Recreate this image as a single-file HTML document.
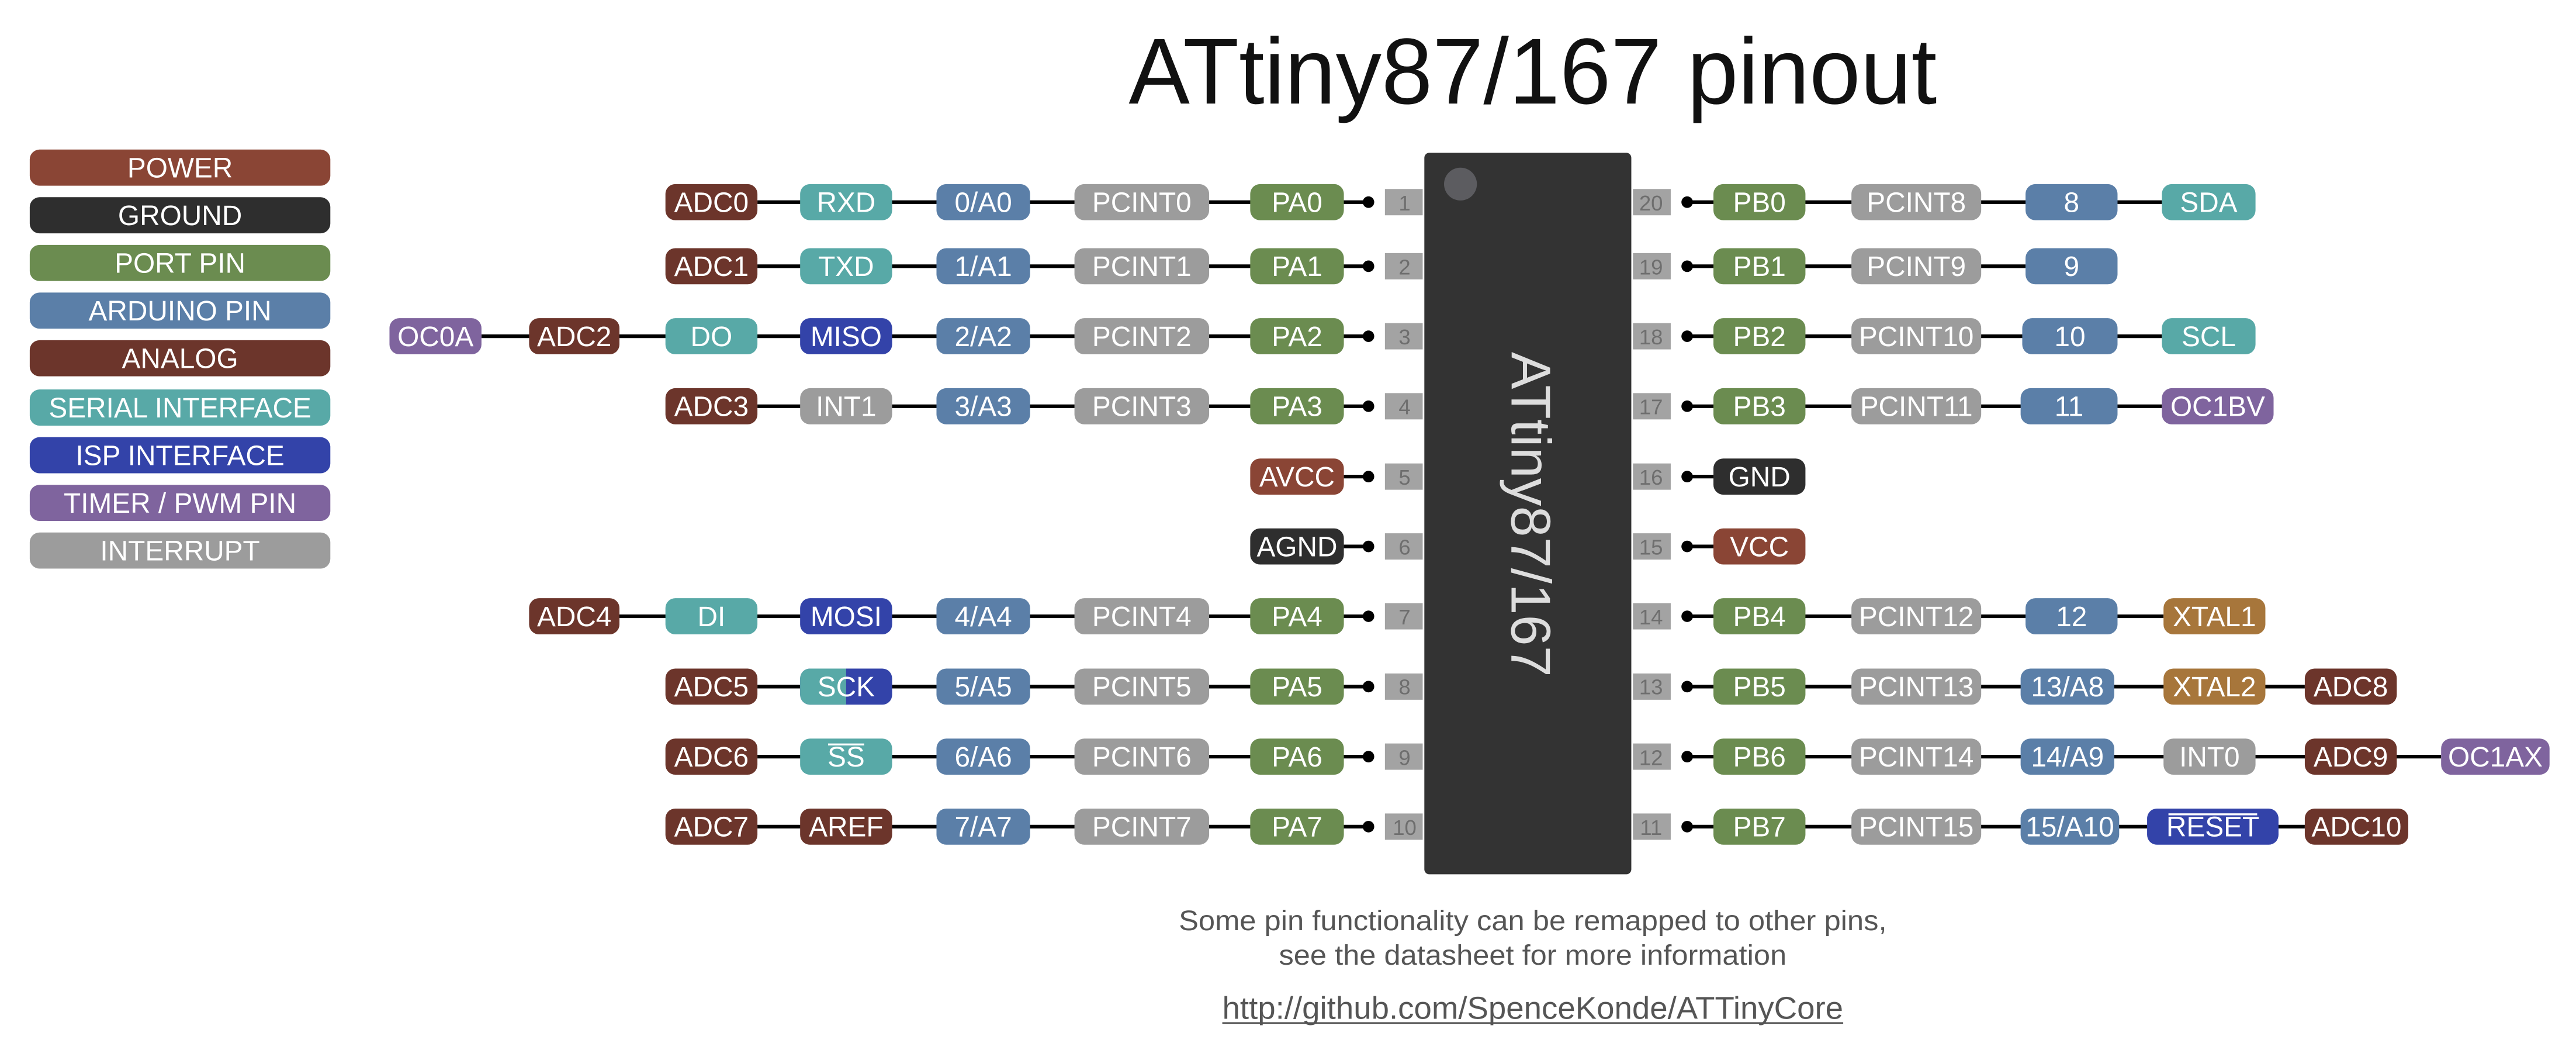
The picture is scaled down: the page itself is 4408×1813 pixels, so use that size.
<!DOCTYPE html>
<html><head><meta charset="utf-8"><style>
html,body{margin:0;padding:0;background:#fff;}
svg{display:block;}
text{font-family:"Liberation Sans",Arial,sans-serif;}
.p text,.l{fill:#fff;font-size:17px;text-anchor:middle;}
.n{fill:#6e6e6e;font-size:13px;text-anchor:middle;}
.w{stroke:#000;stroke-width:2.2;}
</style></head><body>
<svg width="4408" height="1813" viewBox="0 0 1568 645" xmlns="http://www.w3.org/2000/svg">
<defs>
<style>
.pw{fill:#8a4535}.gd{fill:#2e2e2e}.pt{fill:#6b8c50}.ar{fill:#5b7fa8}.an{fill:#6c352b}.se{fill:#58a9a7}.is{fill:#3343a9}.tm{fill:#7f649e}.in{fill:#9c9c9c}.xt{fill:#a7763b}
</style>
</defs>
<text x="933" y="63" font-size="57" text-anchor="middle" fill="#111" textLength="492" lengthAdjust="spacingAndGlyphs">ATtiny87/167 pinout</text>

<g class="p">
<rect class="pw" x="18" y="91" width="183" height="22" rx="6"/><text x="109.5" y="108">POWER</text>
<rect class="gd" x="18" y="120" width="183" height="22" rx="6"/><text x="109.5" y="137">GROUND</text>
<rect class="pt" x="18" y="149" width="183" height="22" rx="6"/><text x="109.5" y="166">PORT PIN</text>
<rect class="ar" x="18" y="178" width="183" height="22" rx="6"/><text x="109.5" y="195">ARDUINO PIN</text>
<rect class="an" x="18" y="207" width="183" height="22" rx="6"/><text x="109.5" y="224">ANALOG</text>
<rect class="se" x="18" y="237" width="183" height="22" rx="6"/><text x="109.5" y="254">SERIAL INTERFACE</text>
<rect class="is" x="18" y="266" width="183" height="22" rx="6"/><text x="109.5" y="283">ISP INTERFACE</text>
<rect class="tm" x="18" y="295" width="183" height="22" rx="6"/><text x="109.5" y="312">TIMER / PWM PIN</text>
<rect class="in" x="18" y="324" width="183" height="22" rx="6"/><text x="109.5" y="341">INTERRUPT</text>
</g>

<rect x="867" y="93" width="126" height="439" rx="3" fill="#333"/>
<circle cx="889" cy="112" r="10" fill="#5c5c60"/>
<text transform="translate(920,313) rotate(90)" font-size="34" fill="#ddd" text-anchor="middle">ATtiny87/167</text>

<g class="w">
<line x1="461" y1="123" x2="833" y2="123"/>
<line x1="461" y1="162" x2="833" y2="162"/>
<line x1="293" y1="204.6" x2="833" y2="204.6"/>
<line x1="461" y1="247.2" x2="833" y2="247.2"/>
<line x1="818" y1="290" x2="833" y2="290"/>
<line x1="818" y1="332.5" x2="833" y2="332.5"/>
<line x1="377" y1="375" x2="833" y2="375"/>
<line x1="461" y1="417.8" x2="833" y2="417.8"/>
<line x1="461" y1="460.4" x2="833" y2="460.4"/>
<line x1="461" y1="503" x2="833" y2="503"/>
<line x1="1027" y1="123" x2="1316" y2="123"/>
<line x1="1027" y1="162" x2="1233" y2="162"/>
<line x1="1027" y1="204.6" x2="1316" y2="204.6"/>
<line x1="1027" y1="247.2" x2="1316" y2="247.2"/>
<line x1="1027" y1="290" x2="1043" y2="290"/>
<line x1="1027" y1="332.5" x2="1043" y2="332.5"/>
<line x1="1027" y1="375" x2="1317" y2="375"/>
<line x1="1027" y1="417.8" x2="1403" y2="417.8"/>
<line x1="1027" y1="460.4" x2="1486" y2="460.4"/>
<line x1="1027" y1="503" x2="1403" y2="503"/>
</g>
<g fill="#000">
<circle cx="833" cy="123" r="3.5"/><circle cx="833" cy="162" r="3.5"/><circle cx="833" cy="204.6" r="3.5"/><circle cx="833" cy="247.2" r="3.5"/><circle cx="833" cy="290" r="3.5"/><circle cx="833" cy="332.5" r="3.5"/><circle cx="833" cy="375" r="3.5"/><circle cx="833" cy="417.8" r="3.5"/><circle cx="833" cy="460.4" r="3.5"/><circle cx="833" cy="503" r="3.5"/>
<circle cx="1027" cy="123" r="3.5"/><circle cx="1027" cy="162" r="3.5"/><circle cx="1027" cy="204.6" r="3.5"/><circle cx="1027" cy="247.2" r="3.5"/><circle cx="1027" cy="290" r="3.5"/><circle cx="1027" cy="332.5" r="3.5"/><circle cx="1027" cy="375" r="3.5"/><circle cx="1027" cy="417.8" r="3.5"/><circle cx="1027" cy="460.4" r="3.5"/><circle cx="1027" cy="503" r="3.5"/>
</g>

<g fill="#a3a3a3">
<rect x="843" y="115" width="23" height="16"/><rect x="843" y="154" width="23" height="16"/><rect x="843" y="196.6" width="23" height="16"/><rect x="843" y="239.2" width="23" height="16"/><rect x="843" y="282" width="23" height="16"/><rect x="843" y="324.5" width="23" height="16"/><rect x="843" y="367" width="23" height="16"/><rect x="843" y="409.8" width="23" height="16"/><rect x="843" y="452.4" width="23" height="16"/><rect x="843" y="495" width="23" height="16"/>
<rect x="994" y="115" width="23" height="16"/><rect x="994" y="154" width="23" height="16"/><rect x="994" y="196.6" width="23" height="16"/><rect x="994" y="239.2" width="23" height="16"/><rect x="994" y="282" width="23" height="16"/><rect x="994" y="324.5" width="23" height="16"/><rect x="994" y="367" width="23" height="16"/><rect x="994" y="409.8" width="23" height="16"/><rect x="994" y="452.4" width="23" height="16"/><rect x="994" y="495" width="23" height="16"/>
</g>
<g class="n">
<text x="855" y="128">1</text><text x="855" y="167">2</text><text x="855" y="209.5">3</text><text x="855" y="252">4</text><text x="855" y="295">5</text><text x="855" y="337.5">6</text><text x="855" y="380">7</text><text x="855" y="422.5">8</text><text x="855" y="465.5">9</text><text x="855" y="508">10</text>
<text x="1005" y="128">20</text><text x="1005" y="167">19</text><text x="1005" y="209.5">18</text><text x="1005" y="252">17</text><text x="1005" y="295">16</text><text x="1005" y="337.5">15</text><text x="1005" y="380">14</text><text x="1005" y="422.5">13</text><text x="1005" y="465.5">12</text><text x="1005" y="508">11</text>
</g>

<g class="p">
<rect class="an" x="405" y="112" width="56" height="22" rx="6"/><text x="433" y="129">ADC0</text>
<rect class="se" x="487" y="112" width="56" height="22" rx="6"/><text x="515" y="129">RXD</text>
<rect class="ar" x="570" y="112" width="57" height="22" rx="6"/><text x="598.5" y="129">0/A0</text>
<rect class="in" x="654" y="112" width="82" height="22" rx="6"/><text x="695" y="129">PCINT0</text>
<rect class="pt" x="761" y="112" width="57" height="22" rx="6"/><text x="789.5" y="129">PA0</text>
<rect class="an" x="405" y="151" width="56" height="22" rx="6"/><text x="433" y="168">ADC1</text>
<rect class="se" x="487" y="151" width="56" height="22" rx="6"/><text x="515" y="168">TXD</text>
<rect class="ar" x="570" y="151" width="57" height="22" rx="6"/><text x="598.5" y="168">1/A1</text>
<rect class="in" x="654" y="151" width="82" height="22" rx="6"/><text x="695" y="168">PCINT1</text>
<rect class="pt" x="761" y="151" width="57" height="22" rx="6"/><text x="789.5" y="168">PA1</text>
<rect class="tm" x="237" y="193.6" width="56" height="22" rx="6"/><text x="265" y="210.6">OC0A</text>
<rect class="an" x="322" y="193.6" width="55" height="22" rx="6"/><text x="349.5" y="210.6">ADC2</text>
<rect class="se" x="405" y="193.6" width="56" height="22" rx="6"/><text x="433" y="210.6">DO</text>
<rect class="is" x="487" y="193.6" width="56" height="22" rx="6"/><text x="515" y="210.6">MISO</text>
<rect class="ar" x="570" y="193.6" width="57" height="22" rx="6"/><text x="598.5" y="210.6">2/A2</text>
<rect class="in" x="654" y="193.6" width="82" height="22" rx="6"/><text x="695" y="210.6">PCINT2</text>
<rect class="pt" x="761" y="193.6" width="57" height="22" rx="6"/><text x="789.5" y="210.6">PA2</text>
<rect class="an" x="405" y="236.2" width="56" height="22" rx="6"/><text x="433" y="253.2">ADC3</text>
<rect class="in" x="487" y="236.2" width="56" height="22" rx="6"/><text x="515" y="253.2">INT1</text>
<rect class="ar" x="570" y="236.2" width="57" height="22" rx="6"/><text x="598.5" y="253.2">3/A3</text>
<rect class="in" x="654" y="236.2" width="82" height="22" rx="6"/><text x="695" y="253.2">PCINT3</text>
<rect class="pt" x="761" y="236.2" width="57" height="22" rx="6"/><text x="789.5" y="253.2">PA3</text>
<rect class="pw" x="761" y="279" width="57" height="22" rx="6"/><text x="789.5" y="296">AVCC</text>
<rect class="gd" x="761" y="321.5" width="57" height="22" rx="6"/><text x="789.5" y="338.5">AGND</text>
<rect class="an" x="322" y="364" width="55" height="22" rx="6"/><text x="349.5" y="381">ADC4</text>
<rect class="se" x="405" y="364" width="56" height="22" rx="6"/><text x="433" y="381">DI</text>
<rect class="is" x="487" y="364" width="56" height="22" rx="6"/><text x="515" y="381">MOSI</text>
<rect class="ar" x="570" y="364" width="57" height="22" rx="6"/><text x="598.5" y="381">4/A4</text>
<rect class="in" x="654" y="364" width="82" height="22" rx="6"/><text x="695" y="381">PCINT4</text>
<rect class="pt" x="761" y="364" width="57" height="22" rx="6"/><text x="789.5" y="381">PA4</text>
<rect class="an" x="405" y="406.8" width="56" height="22" rx="6"/><text x="433" y="423.8">ADC5</text>
<rect class="is" x="487" y="406.8" width="56" height="22" rx="6"/>
<path class="se" d="M493,406.8 H515 V428.8 H493 A6,6 0 0 1 487,422.8 V412.8 A6,6 0 0 1 493,406.8 Z"/>
<text x="515" y="423.8">SCK</text>
<rect class="ar" x="570" y="406.8" width="57" height="22" rx="6"/><text x="598.5" y="423.8">5/A5</text>
<rect class="in" x="654" y="406.8" width="82" height="22" rx="6"/><text x="695" y="423.8">PCINT5</text>
<rect class="pt" x="761" y="406.8" width="57" height="22" rx="6"/><text x="789.5" y="423.8">PA5</text>
<rect class="an" x="405" y="449.4" width="56" height="22" rx="6"/><text x="433" y="466.4">ADC6</text>
<rect class="se" x="487" y="449.4" width="56" height="22" rx="6"/><text x="515" y="466.4">SS</text>
<line x1="504" y1="453" x2="526" y2="453" stroke="#fff" stroke-width="1.2"/>
<rect class="ar" x="570" y="449.4" width="57" height="22" rx="6"/><text x="598.5" y="466.4">6/A6</text>
<rect class="in" x="654" y="449.4" width="82" height="22" rx="6"/><text x="695" y="466.4">PCINT6</text>
<rect class="pt" x="761" y="449.4" width="57" height="22" rx="6"/><text x="789.5" y="466.4">PA6</text>
<rect class="an" x="405" y="492" width="56" height="22" rx="6"/><text x="433" y="509">ADC7</text>
<rect class="an" x="487" y="492" width="56" height="22" rx="6"/><text x="515" y="509">AREF</text>
<rect class="ar" x="570" y="492" width="57" height="22" rx="6"/><text x="598.5" y="509">7/A7</text>
<rect class="in" x="654" y="492" width="82" height="22" rx="6"/><text x="695" y="509">PCINT7</text>
<rect class="pt" x="761" y="492" width="57" height="22" rx="6"/><text x="789.5" y="509">PA7</text>
</g>

<g class="p">
<rect class="pt" x="1043" y="112" width="56" height="22" rx="6"/><text x="1071" y="129">PB0</text>
<rect class="in" x="1127" y="112" width="79" height="22" rx="6"/><text x="1166.5" y="129">PCINT8</text>
<rect class="ar" x="1233" y="112" width="56" height="22" rx="6"/><text x="1261" y="129">8</text>
<rect class="se" x="1316" y="112" width="57" height="22" rx="6"/><text x="1344.5" y="129">SDA</text>
<rect class="pt" x="1043" y="151" width="56" height="22" rx="6"/><text x="1071" y="168">PB1</text>
<rect class="in" x="1127" y="151" width="79" height="22" rx="6"/><text x="1166.5" y="168">PCINT9</text>
<rect class="ar" x="1233" y="151" width="56" height="22" rx="6"/><text x="1261" y="168">9</text>
<rect class="pt" x="1043" y="193.6" width="56" height="22" rx="6"/><text x="1071" y="210.6">PB2</text>
<rect class="in" x="1127" y="193.6" width="79" height="22" rx="6"/><text x="1166.5" y="210.6">PCINT10</text>
<rect class="ar" x="1231" y="193.6" width="58" height="22" rx="6"/><text x="1260" y="210.6">10</text>
<rect class="se" x="1316" y="193.6" width="57" height="22" rx="6"/><text x="1344.5" y="210.6">SCL</text>
<rect class="pt" x="1043" y="236.2" width="56" height="22" rx="6"/><text x="1071" y="253.2">PB3</text>
<rect class="in" x="1127" y="236.2" width="79" height="22" rx="6"/><text x="1166.5" y="253.2">PCINT11</text>
<rect class="ar" x="1230" y="236.2" width="59" height="22" rx="6"/><text x="1259.5" y="253.2">11</text>
<rect class="tm" x="1316" y="236.2" width="68" height="22" rx="6"/><text x="1350" y="253.2">OC1BV</text>
<rect class="gd" x="1043" y="279" width="56" height="22" rx="6"/><text x="1071" y="296">GND</text>
<rect class="pw" x="1043" y="321.5" width="56" height="22" rx="6"/><text x="1071" y="338.5">VCC</text>
<rect class="pt" x="1043" y="364" width="56" height="22" rx="6"/><text x="1071" y="381">PB4</text>
<rect class="in" x="1127" y="364" width="79" height="22" rx="6"/><text x="1166.5" y="381">PCINT12</text>
<rect class="ar" x="1233" y="364" width="56" height="22" rx="6"/><text x="1261" y="381">12</text>
<rect class="xt" x="1317" y="364" width="62" height="22" rx="6"/><text x="1348" y="381">XTAL1</text>
<rect class="pt" x="1043" y="406.8" width="56" height="22" rx="6"/><text x="1071" y="423.8">PB5</text>
<rect class="in" x="1127" y="406.8" width="79" height="22" rx="6"/><text x="1166.5" y="423.8">PCINT13</text>
<rect class="ar" x="1230" y="406.8" width="57" height="22" rx="6"/><text x="1258.5" y="423.8">13/A8</text>
<rect class="xt" x="1317" y="406.8" width="62" height="22" rx="6"/><text x="1348" y="423.8">XTAL2</text>
<rect class="an" x="1403" y="406.8" width="56" height="22" rx="6"/><text x="1431" y="423.8">ADC8</text>
<rect class="pt" x="1043" y="449.4" width="56" height="22" rx="6"/><text x="1071" y="466.4">PB6</text>
<rect class="in" x="1127" y="449.4" width="79" height="22" rx="6"/><text x="1166.5" y="466.4">PCINT14</text>
<rect class="ar" x="1230" y="449.4" width="57" height="22" rx="6"/><text x="1258.5" y="466.4">14/A9</text>
<rect class="in" x="1317" y="449.4" width="56" height="22" rx="6"/><text x="1345" y="466.4">INT0</text>
<rect class="an" x="1403" y="449.4" width="56" height="22" rx="6"/><text x="1431" y="466.4">ADC9</text>
<rect class="tm" x="1486" y="449.4" width="66" height="22" rx="6"/><text x="1519" y="466.4">OC1AX</text>
<rect class="pt" x="1043" y="492" width="56" height="22" rx="6"/><text x="1071" y="509">PB7</text>
<rect class="in" x="1127" y="492" width="79" height="22" rx="6"/><text x="1166.5" y="509">PCINT15</text>
<rect class="ar" x="1230" y="492" width="60" height="22" rx="6"/><text x="1260" y="509">15/A10</text>
<rect class="is" x="1307" y="492" width="80" height="22" rx="6"/><text x="1347" y="509">RESET</text>
<line x1="1320" y1="495.5" x2="1374" y2="495.5" stroke="#fff" stroke-width="1.2"/>
<rect class="an" x="1403" y="492" width="63" height="22" rx="6"/><text x="1434.5" y="509">ADC10</text>
</g>

<text x="933" y="566" font-size="17" fill="#555" text-anchor="middle" textLength="431" lengthAdjust="spacingAndGlyphs">Some pin functionality can be remapped to other pins,</text>
<text x="933" y="587" font-size="17" fill="#555" text-anchor="middle" textLength="309" lengthAdjust="spacingAndGlyphs">see the datasheet for more information</text>
<text x="933" y="620" font-size="19" fill="#555" text-anchor="middle" textLength="378" lengthAdjust="spacingAndGlyphs">http://github.com/SpenceKonde/ATTinyCore</text>
<line x1="744" y1="622.5" x2="1122" y2="622.5" stroke="#555" stroke-width="1"/>
</svg>
</body></html>
